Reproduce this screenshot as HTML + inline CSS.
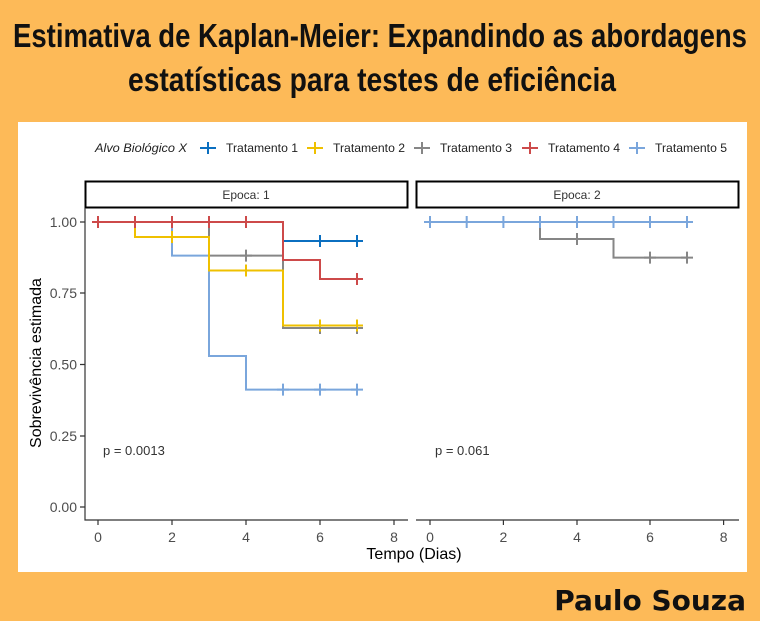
<!DOCTYPE html>
<html><head><meta charset="utf-8"><style>
html,body{margin:0;padding:0;background:#FDBA58;}
svg{display:block;}
</style></head><body>
<svg width="760" height="621" viewBox="0 0 760 621" xmlns="http://www.w3.org/2000/svg">
<rect x="0" y="0" width="760" height="621" fill="#FDBA58"/>
<g font-family="'Liberation Sans Narrow','Liberation Sans',sans-serif" font-weight="bold" fill="#111">
<text x="380" y="47" font-size="33" text-anchor="middle" textLength="734" lengthAdjust="spacingAndGlyphs">Estimativa de Kaplan-Meier: Expandindo as abordagens</text>
<text x="372" y="91" font-size="33" text-anchor="middle" textLength="488" lengthAdjust="spacingAndGlyphs">estatísticas para testes de eficiência</text>
</g>
<rect x="18" y="122" width="729" height="450" fill="#fff"/>
<text x="746" y="610" font-family="'DejaVu Sans','Liberation Sans',sans-serif" font-weight="bold" font-size="28" text-anchor="end" fill="#111">Paulo Souza</text>

<!-- legend -->
<g font-family="'Liberation Sans',sans-serif" font-size="12" fill="#222">
<text x="95" y="152" font-style="italic" textLength="92" lengthAdjust="spacingAndGlyphs">Alvo Biológico X</text>
<g stroke-width="2">
<path d="M200 148h16M208 142v12" stroke="#0B6FC0"/>
<path d="M307 148h16M315 142v12" stroke="#EFC000"/>
<path d="M414 148h16M422 142v12" stroke="#868686"/>
<path d="M522 148h16M530 142v12" stroke="#CD4A4A"/>
<path d="M629 148h16M637 142v12" stroke="#7AA6DC"/>
</g>
<text x="226" y="152" textLength="72" lengthAdjust="spacingAndGlyphs">Tratamento 1</text>
<text x="333" y="152" textLength="72" lengthAdjust="spacingAndGlyphs">Tratamento 2</text>
<text x="440" y="152" textLength="72" lengthAdjust="spacingAndGlyphs">Tratamento 3</text>
<text x="548" y="152" textLength="72" lengthAdjust="spacingAndGlyphs">Tratamento 4</text>
<text x="655" y="152" textLength="72" lengthAdjust="spacingAndGlyphs">Tratamento 5</text>
</g>

<!-- strips -->
<rect x="85.5" y="181.5" width="322" height="26" fill="#fff" stroke="#000" stroke-width="2"/>
<rect x="416.5" y="181.5" width="322" height="26" fill="#fff" stroke="#000" stroke-width="2"/>
<g font-family="'Liberation Sans',sans-serif" font-size="12" fill="#333" text-anchor="middle">
<text x="246" y="199">Epoca: 1</text>
<text x="577" y="199">Epoca: 2</text>
</g>

<!-- axes -->
<g stroke="#333" stroke-width="1.2" fill="none">
<path d="M85 208V520H408"/>
<path d="M416 520H739"/>
<path d="M80 222h5M80 293h5M80 364.5h5M80 436h5M80 507h5"/>
<path d="M98 520v5M172 520v5M246 520v5M320 520v5M394 520v5"/>
<path d="M430 520v5M503.4 520v5M577 520v5M650 520v5M723.6 520v5"/>
</g>
<g font-family="'Liberation Sans',sans-serif" font-size="14" fill="#4d4d4d">
<g text-anchor="end">
<text x="77" y="227">1.00</text>
<text x="77" y="298">0.75</text>
<text x="77" y="369.5">0.50</text>
<text x="77" y="441">0.25</text>
<text x="77" y="512">0.00</text>
</g>
<g text-anchor="middle">
<text x="98" y="542">0</text><text x="172" y="542">2</text><text x="246" y="542">4</text><text x="320" y="542">6</text><text x="394" y="542">8</text>
<text x="430" y="542">0</text><text x="503.4" y="542">2</text><text x="577" y="542">4</text><text x="650" y="542">6</text><text x="723.6" y="542">8</text>
</g>
</g>
<g font-family="'Liberation Sans',sans-serif" font-size="16" fill="#000">
<text x="414" y="559" text-anchor="middle">Tempo (Dias)</text>
<text transform="translate(41,363) rotate(-90)" text-anchor="middle">Sobrevivência estimada</text>
</g>
<g font-family="'Liberation Sans',sans-serif" font-size="13" fill="#333">
<text x="103" y="455">p = 0.0013</text>
<text x="435" y="455">p = 0.061</text>
</g>

<!-- curves panel 1 -->
<g fill="none" stroke-width="2">
<g stroke="#7AA6DC"><path d="M98 222H172V255.6H209V356H246V389.6H357"/>
<path d="M277 389.6h12M283 383.6v12M314 389.6h12M320 383.6v12M351 389.6h12M357 383.6v12"/></g>
<g stroke="#868686"><path d="M98 222H209V255.6H283V328H357"/>
<path d="M240 255.6h12M246 249.6v12M314 328h12M320 322v12M351 328h12M357 322v12"/></g>
<g stroke="#EFC000"><path d="M98 222H135V237H209V270.5H283V325.5H357"/>
<path d="M166 237h12M172 231v12M240 270.5h12M246 264.5v12M314 325.5h12M320 319.5v12M351 325.5h12M357 319.5v12"/></g>
<g stroke="#868686"><path d="M283 328H357"/></g>
<g stroke="#0B6FC0"><path d="M98 222H283V241H357"/>
<path d="M314 241h12M320 235v12M351 241h12M357 235v12"/></g>
<g stroke="#CD4A4A"><path d="M98 222H283V260H320V279H357"/>
<path d="M92 222h12M98 216v12M129 222h12M135 216v12M166 222h12M172 216v12M203 222h12M209 216v12M240 222h12M246 216v12M351 279h12M357 273v12"/></g>
</g>

<!-- curves panel 2 -->
<g fill="none" stroke-width="2">
<g stroke="#868686"><path d="M430 222H540V239H613.5V257.6H687"/>
<path d="M571 239h12M577 233v12M644 257.6h12M650 251.6v12M681 257.6h12M687 251.6v12"/></g>
<g stroke="#7AA6DC"><path d="M430 222H687"/>
<path d="M424 222h12M430 216v12M460.7 222h12M466.7 216v12M497.4 222h12M503.4 216v12M534 222h12M540 216v12M571 222h12M577 216v12M607.5 222h12M613.5 216v12M644 222h12M650 216v12M681 222h12M687 216v12"/></g>
</g>
</svg>
</body></html>
